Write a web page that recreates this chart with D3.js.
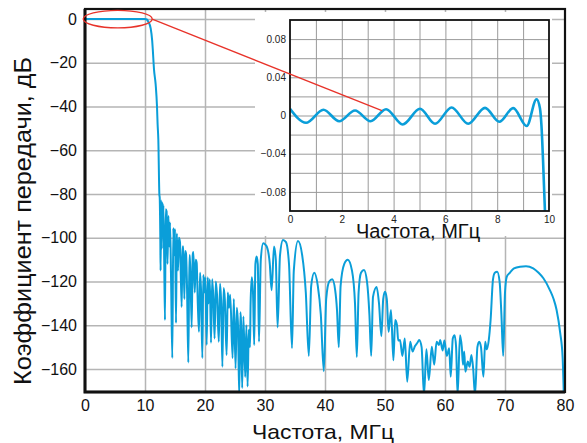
<!DOCTYPE html>
<html lang="ru">
<head>
<meta charset="UTF-8">
<title>Коэффициент передачи</title>
<script src="https://d3js.org/d3.v7.min.js"></script>
<style>
  body { margin: 0; background: #fff; font-family: "Liberation Sans", Arial, sans-serif; }
  .grid line { stroke: #b5b5b5; stroke-width: 1.5; }
  .igrid line { stroke: #9a9a9a; stroke-width: 1; }
  .axis text { font-size: 16px; fill: #111; }
  .iaxis text { font-size: 10px; fill: #222; }
  .curve { fill: none; stroke: #0a9ed9; stroke-width: 2; stroke-linejoin: round; }
  .icurve { fill: none; stroke: #0a9ed9; stroke-width: 2.6; stroke-linejoin: round; }
  .red { fill: none; stroke: #e8332a; stroke-width: 1.3; }
</style>
</head>
<body>
<svg width="587" height="443"></svg>
<script>
// основной график: [частота МГц, дБ]
const passband = [
  [0, 0], [10, 0], [10.3, -0.2], [10.55, -1.2], [10.95, -4.3], [11.2, -10], [11.3, -14],
  [11.5, -23], [11.78, -30], [12.0, -40], [12.1, -48], [12.22, -55], [12.4, -80.5]
];
const stopbandNear = [
  [12.45, -81.5], [12.55, -100], [12.6, -115], [12.7, -83], [12.8, -105], [12.9, -84],
  [13.0, -96], [13.06, -85], [13.2, -110], [13.33, -137.6], [13.45, -87], [13.6, -88],
  [13.75, -112], [13.9, -90], [14.05, -104], [14.17, -93], [14.35, -120], [14.55, -155],
  [14.72, -95.5], [14.85, -108], [15.0, -96], [15.17, -139], [15.3, -98], [15.5, -115],
  [15.65, -100], [15.83, -102], [16.11, -131.6], [16.25, -104], [16.39, -104], [16.56, -128],
  [16.7, -106], [16.83, -107], [17.0, -122], [17.22, -157], [17.4, -108], [17.5, -108],
  [17.78, -141], [17.95, -108], [18.06, -106.5], [18.3, -125], [18.45, -110], [18.61, -111.5],
  [18.8, -130], [19.0, -143], [19.17, -116], [19.35, -125], [19.56, -155], [19.72, -117],
  [19.9, -125], [20.05, -118], [20.28, -149], [20.45, -118], [20.6, -130], [20.8, -119],
  [21.0, -148], [21.2, -119], [21.4, -128], [21.6, -146], [21.8, -120], [22.0, -126],
  [22.3, -147.5], [22.5, -121], [22.7, -130], [22.9, -159], [23.1, -123], [23.3, -128],
  [23.6, -153.6], [23.8, -125], [24.0, -132], [24.2, -126], [24.6, -155], [24.8, -128],
  [25.1, -159.7], [25.3, -132], [25.5, -140], [25.7, -172], [25.9, -134], [26.0, -138],
  [26.2, -168.7], [26.4, -136], [26.7, -163.6], [26.9, -140], [27.1, -168], [27.3, -142],
  [27.5, -150]
];
const sidelobes = [
  [27.6, -130], [27.8, -118], [28.0, -125], [28.2, -149], [28.4, -112], [28.6, -108.6],
  [28.8, -112], [29.0, -147.5], [29.3, -110], [29.7, -102.5], [30.0, -103], [30.3, -104],
  [30.8, -112], [31.1, -124], [31.5, -104], [31.8, -110], [32.1, -141], [32.5, -108],
  [33.0, -101], [33.5, -102], [34.0, -112], [34.5, -150.5], [34.8, -115], [35.5, -101.5],
  [36.2, -108], [36.8, -125], [37.3, -154], [37.7, -122], [38.2, -116], [38.8, -122],
  [39.3, -135], [39.8, -161], [40.2, -128], [40.7, -120], [41.2, -119], [41.7, -124],
  [42.0, -133], [42.3, -150], [42.6, -122], [43.2, -112], [43.8, -110], [44.5, -115],
  [45.0, -130], [45.3, -154.5], [45.6, -125], [46.0, -116], [46.5, -114.7], [47.0, -120],
  [47.4, -135], [47.7, -154], [48.0, -127], [48.6, -122.5], [49.0, -130], [49.4, -145],
  [49.7, -128], [50.0, -124.7], [50.3, -128], [50.6, -143], [51.0, -133], [51.4, -156],
  [51.7, -137.6]
];
const noiseFloor = [
  [52.0, -140], [52.2, -147], [52.5, -146.7], [52.9, -154], [53.3, -146], [53.7, -165.8],
  [54.2, -147.5], [54.6, -152], [55.0, -149.5], [55.4, -148], [55.7, -146.7], [56.1, -150],
  [56.5, -172], [56.9, -151], [57.3, -165], [57.8, -149.8], [58.2, -158], [58.6, -147.5],
  [59.0, -149], [59.2, -146.7], [59.6, -151.5], [59.9, -147], [60.3, -154], [60.7, -150.5],
  [60.95, -163.5], [61.3, -146], [61.6, -144.5], [61.85, -150], [62.1, -172], [62.5, -144.5],
  [62.8, -150], [63.0, -158], [63.2, -152], [63.4, -161.2], [63.8, -156.6], [64.1, -159],
  [64.4, -153.6], [64.7, -160], [65.0, -172], [65.4, -150], [65.7, -147.5], [66.0, -150],
  [66.4, -163.5], [66.7, -147.5], [66.95, -151], [67.3, -146.7]
];
const upperLobe = [
  [67.6, -137.6], [68.0, -119], [68.3, -116], [68.7, -115.5], [69.1, -120], [69.4, -135],
  [69.7, -154], [70.0, -125], [70.3, -117.7], [70.8, -116], [71.5, -114], [72.5, -113.2],
  [73.5, -113], [74.7, -114], [75.6, -116], [76.4, -118.5], [77.5, -124], [78.1, -128],
  [78.6, -133], [79.2, -143.5], [79.6, -154.5], [79.8, -172]
];

// врезка: неравномерность в полосе пропускания, [МГц, дБ]
const insetRipple = [
  [0, 0.007], [0.62, -0.0076], [1.29, 0.006], [1.9, -0.006], [2.51, 0.0052], [3.11, -0.006],
  [3.71, 0.0066], [4.35, -0.0094], [5.02, 0.007], [5.6, -0.0087], [6.24, 0.0084],
  [6.88, -0.0087], [7.53, 0.008], [8.08, -0.0066], [8.62, 0.0077], [9.14, -0.011],
  [9.52, 0.017], [9.65, 0.0077], [9.71, -0.011], [9.77, -0.047], [9.85, -0.105]
];

const xTicks = [0, 10, 20, 30, 40, 50, 60, 70, 80];
const yTicks = [0, -20, -40, -60, -80, -100, -120, -140, -160];
const insetXTicks = [0, 2, 4, 6, 8, 10];
const insetYTicks = [-0.08, -0.04, 0, 0.04, 0.08];
const zoomFreq = [-0.3, 11.2];   // выделенная область (МГц)
const zoomDb = [-4, 4];
const calloutTarget = [3.55, 0.005];

const svg = d3.select("svg");

const x = d3.scaleLinear().domain([0, 80]).range([85, 565]);
const y = d3.scaleLinear().domain([-170.5, 4.6]).range([392, 9]);

const ix = d3.scaleLinear().domain([0, 10]).range([290, 549]);
const iy = d3.scaleLinear().domain([-0.1, 0.1]).range([211, 20]);

const defs = svg.append("defs");
defs.append("clipPath").attr("id", "clipMain").append("rect")
  .attr("x", x(0)).attr("y", y(4.6)).attr("width", x(80) - x(0)).attr("height", y(-170.5) - y(4.6));
defs.append("clipPath").attr("id", "clipInset").append("rect")
  .attr("x", ix(0)).attr("y", iy(0.1)).attr("width", ix(10) - ix(0)).attr("height", iy(-0.1) - iy(0.1));

// сетка
svg.append("g").attr("class", "grid")
  .attr("transform", `translate(0,${y(-170.5)})`)
  .call(d3.axisBottom(x).tickValues(xTicks.slice(1, -1)).tickSize(-(y(-170.5) - y(4.6))).tickFormat(""))
  .call(g => g.select(".domain").remove());
svg.append("g").attr("class", "grid")
  .attr("transform", `translate(${x(0)},0)`)
  .call(d3.axisLeft(y).tickValues(yTicks).tickSize(-(x(80) - x(0))).tickFormat(""))
  .call(g => g.select(".domain").remove());

// основная кривая
const curve = passband.concat(stopbandNear, sidelobes, noiseFloor, upperLobe);
const line = d3.line().x(d => x(d[0])).y(d => y(d[1])).curve(d3.curveMonotoneX);
svg.append("path").datum(curve).attr("class", "curve")
  .attr("clip-path", "url(#clipMain)").attr("d", line);

// подписи осей
svg.append("g").attr("class", "axis")
  .attr("transform", `translate(0,${y(-170.5)})`)
  .call(d3.axisBottom(x).tickValues(xTicks).tickSize(0).tickPadding(8))
  .call(g => g.select(".domain").remove());
svg.append("g").attr("class", "axis")
  .attr("transform", `translate(${x(0)},0)`)
  .call(d3.axisLeft(y).tickValues(yTicks).tickSize(0).tickPadding(8))
  .call(g => g.select(".domain").remove());

svg.append("text")
  .attr("transform", "translate(31,221) rotate(-90)")
  .attr("text-anchor", "middle")
  .attr("textLength", 328).attr("lengthAdjust", "spacingAndGlyphs")
  .style("font-size", "24px").style("fill", "#111")
  .text("Коэффициент передачи, дБ");
svg.append("text")
  .attr("x", 323).attr("y", 439)
  .attr("text-anchor", "middle")
  .attr("textLength", 142).attr("lengthAdjust", "spacingAndGlyphs")
  .style("font-size", "21px").style("fill", "#111")
  .text("Частота, МГц");

// врезка
svg.append("rect").attr("x", 255).attr("y", 12).attr("width", 297).attr("height", 224).attr("fill", "#fff");

const ixGrid = d3.range(1, 10);
const iyGrid = d3.range(-0.08, 0.0801, 0.02);
svg.append("g").attr("class", "igrid")
  .attr("transform", `translate(0,${iy(-0.1)})`)
  .call(d3.axisBottom(ix).tickValues(ixGrid).tickSize(-(iy(-0.1) - iy(0.1))).tickFormat(""))
  .call(g => g.select(".domain").remove());
svg.append("g").attr("class", "igrid")
  .attr("transform", `translate(${ix(0)},0)`)
  .call(d3.axisLeft(iy).tickValues(iyGrid).tickSize(-(ix(10) - ix(0))).tickFormat(""))
  .call(g => g.select(".domain").remove());

const iline = d3.line().x(d => ix(d[0])).y(d => iy(d[1])).curve(d3.curveMonotoneX);
svg.append("path").datum(insetRipple).attr("class", "icurve")
  .attr("clip-path", "url(#clipInset)").attr("d", iline);

svg.append("rect")
  .attr("x", ix(0)).attr("y", iy(0.1)).attr("width", ix(10) - ix(0)).attr("height", iy(-0.1) - iy(0.1))
  .attr("fill", "none").attr("stroke", "#111").attr("stroke-width", 1.8);

svg.append("g").attr("class", "iaxis")
  .attr("transform", `translate(0,${iy(-0.1)})`)
  .call(d3.axisBottom(ix).tickValues(insetXTicks).tickSize(0).tickPadding(5))
  .call(g => g.select(".domain").remove());
svg.append("g").attr("class", "iaxis")
  .attr("transform", `translate(${ix(0)},0)`)
  .call(d3.axisLeft(iy).tickValues(insetYTicks).tickSize(0).tickPadding(4)
    .tickFormat(d => d === 0 ? "0" : d3.format(".2f")(d)))
  .call(g => g.select(".domain").remove());

svg.append("text")
  .attr("x", 418).attr("y", 238)
  .attr("text-anchor", "middle")
  .style("font-size", "20px").style("fill", "#111")
  .text("Частота, МГц");

// рамка основного графика
svg.append("rect")
  .attr("x", x(0)).attr("y", y(4.6)).attr("width", x(80) - x(0)).attr("height", y(-170.5) - y(4.6))
  .attr("fill", "none").attr("stroke", "#111").attr("stroke-width", 2.2);
svg.append("path")
  .attr("d", `M${x(0)},${y(4.6)}V${y(-170.5)}H${x(80)}`)
  .attr("fill", "none").attr("stroke", "#111").attr("stroke-width", 3);

// выноска
const cx = (x(zoomFreq[0]) + x(zoomFreq[1])) / 2;
const cy = (y(zoomDb[0]) + y(zoomDb[1])) / 2;
svg.append("ellipse").attr("class", "red")
  .attr("cx", cx).attr("cy", cy)
  .attr("rx", (x(zoomFreq[1]) - x(zoomFreq[0])) / 2)
  .attr("ry", (y(zoomDb[0]) - y(zoomDb[1])) / 2);
svg.append("line").attr("class", "red")
  .attr("x1", x(zoomFreq[1])).attr("y1", cy)
  .attr("x2", ix(calloutTarget[0])).attr("y2", iy(calloutTarget[1]));
</script>
</body>
</html>
